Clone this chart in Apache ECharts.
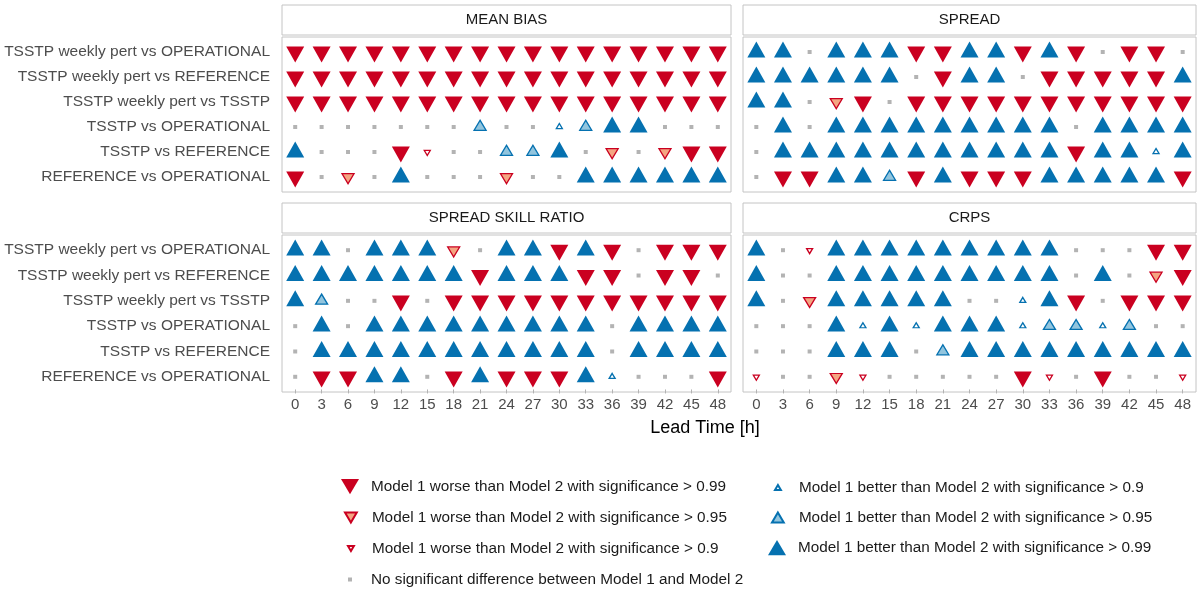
<!DOCTYPE html>
<html>
<head>
<meta charset="utf-8">
<script src="https://cdn.jsdelivr.net/npm/echarts@6/dist/echarts.min.js"></script>
<style>
    html, body {margin: 0; padding: 0; background: #fff;}
    #main {width: 1200px; height: 592px;}
</style>
</head>
<body>
<div id="main"></div>
<script>
    // x: lead time, y: comparisons
    var leadTimes = ['0', '3', '6', '9', '12', '15', '18', '21', '24', '27', '30', '33', '36', '39', '42', '45', '48'];
    var comparisons = [
        'TSSTP weekly pert vs OPERATIONAL',
        'TSSTP weekly pert vs REFERENCE',
        'TSSTP weekly pert vs TSSTP',
        'TSSTP vs OPERATIONAL',
        'TSSTP vs REFERENCE',
        'REFERENCE vs OPERATIONAL'
    ];
    var panelTitles = ['MEAN BIAS', 'SPREAD', 'SPREAD SKILL RATIO', 'CRPS'];

    // -3/-2/-1 : model 1 worse (0.99/0.95/0.9), 0 : no difference, 1/2/3 : model 1 better (0.9/0.95/0.99)
    var meanBias = [
        [-3, -3, -3, -3, -3, -3, -3, -3, -3, -3, -3, -3, -3, -3, -3, -3, -3],
        [-3, -3, -3, -3, -3, -3, -3, -3, -3, -3, -3, -3, -3, -3, -3, -3, -3],
        [-3, -3, -3, -3, -3, -3, -3, -3, -3, -3, -3, -3, -3, -3, -3, -3, -3],
        [0, 0, 0, 0, 0, 0, 0, 2, 0, 0, 1, 2, 3, 3, 0, 0, 0],
        [3, 0, 0, 0, -3, -1, 0, 0, 2, 2, 3, 0, -2, 0, -2, -3, -3],
        [-3, 0, -2, 0, 3, 0, 0, 0, -2, 0, 0, 3, 3, 3, 3, 3, 3]
    ];
    var spread = [
        [3, 3, 0, 3, 3, 3, -3, -3, 3, 3, -3, 3, -3, 0, -3, -3, 0],
        [3, 3, 3, 3, 3, 3, 0, -3, 3, 3, 0, -3, -3, -3, -3, -3, 3],
        [3, 3, 0, -2, -3, 0, -3, -3, -3, -3, -3, -3, -3, -3, -3, -3, -3],
        [0, 3, 0, 3, 3, 3, 3, 3, 3, 3, 3, 3, 0, 3, 3, 3, 3],
        [0, 3, 3, 3, 3, 3, 3, 3, 3, 3, 3, 3, -3, 3, 3, 1, 3],
        [0, -3, -3, 3, 3, 2, -3, 3, -3, -3, -3, 3, 3, 3, 3, 3, -3]
    ];
    var spreadSkill = [
        [3, 3, 0, 3, 3, 3, -2, 0, 3, 3, -3, 3, -3, 0, -3, -3, -3],
        [3, 3, 3, 3, 3, 3, 3, -3, 3, 3, 3, -3, -3, 0, -3, -3, 0],
        [3, 2, 0, 0, -3, 0, -3, -3, -3, -3, -3, -3, -3, -3, -3, -3, -3],
        [0, 3, 0, 3, 3, 3, 3, 3, 3, 3, 3, 3, 0, 3, 3, 3, 3],
        [0, 3, 3, 3, 3, 3, 3, 3, 3, 3, 3, 3, 0, 3, 3, 3, 3],
        [0, -3, -3, 3, 3, 0, -3, 3, -3, -3, -3, 3, 1, 0, 0, 0, -3]
    ];
    var crps = [
        [3, 0, -1, 3, 3, 3, 3, 3, 3, 3, 3, 3, 0, 0, 0, -3, -3],
        [3, 0, 0, 3, 3, 3, 3, 3, 3, 3, 3, 3, 0, 3, 0, -2, -3],
        [3, 0, -2, 3, 3, 3, 3, 3, 0, 0, 1, 3, -3, 0, -3, -3, -3],
        [0, 0, 0, 3, 1, 3, 1, 3, 3, 3, 1, 2, 2, 1, 2, 0, 0],
        [0, 0, 0, 3, 3, 3, 0, 2, 3, 3, 3, 3, 3, 3, 3, 3, 3],
        [-1, 0, 0, -2, -1, 0, 0, 0, 0, 0, -3, -1, 0, -3, 0, 0, -1]
    ];
    var levelNames = {
        '-3': 'Model 1 worse than Model 2 with significance > 0.99',
        '-2': 'Model 1 worse than Model 2 with significance > 0.95',
        '-1': 'Model 1 worse than Model 2 with significance > 0.9',
        '0': 'No significant difference between Model 1 and Model 2',
        '1': 'Model 1 better than Model 2 with significance > 0.9',
        '2': 'Model 1 better than Model 2 with significance > 0.95',
        '3': 'Model 1 better than Model 2 with significance > 0.99'
    };

    var RED = '#ca0020', BLUE = '#0571b0';
    var DOWN = 'path://M0,0L20,0L10,17Z';
    var UP = 'path://M10,0L20,17L0,17Z';
    // 符号样式 (offset: R的三角形以外接圆心定位)
    var levelStyle = {
        '-3': {symbol: DOWN, size: [18, 16], offset: [0, 2.6], item: {color: RED, borderWidth: 0, opacity: 1}},
        '-2': {symbol: DOWN, size: [12, 10], offset: [0, 1.7], item: {color: '#f4a582', borderColor: RED, borderWidth: 1.3, opacity: 1}},
        '-1': {symbol: DOWN, size: [6, 5], offset: [0, 0.9], item: {color: '#fff', borderColor: RED, borderWidth: 1.3, opacity: 1}},
        '0': {symbol: 'rect', size: [4, 4], offset: [0, 0], item: {color: '#b3b3b3', borderWidth: 0, opacity: 1}},
        '1': {symbol: UP, size: [6, 5], offset: [0, -0.9], item: {color: '#fff', borderColor: BLUE, borderWidth: 1.3, opacity: 1}},
        '2': {symbol: UP, size: [12, 10], offset: [0, -1.7], item: {color: '#92c5de', borderColor: BLUE, borderWidth: 1.3, opacity: 1}},
        '3': {symbol: UP, size: [18, 16], offset: [0, -2.6], item: {color: BLUE, borderWidth: 0, opacity: 1}}
    };
    var levels = [-3, -2, -1, 0, 1, 2, 3];

    // panel boxes [left, top, width, height]
    var boxes = [[282, 37, 449, 155], [743, 37, 453, 155], [282, 235, 449, 157], [743, 235, 453, 157]];
    var stripTops = [5, 5, 203, 203];
    var panels = [meanBias, spread, spreadSkill, crps];

    var grids = [], xAxes = [], yAxes = [], series = [], graphics = [];
    panels.forEach(function (codes, p) {
        var b = boxes[p];
        var bottomRow = p >= 2, leftCol = p % 2 === 0;
        // ggplot离散轴扩展0.6 → 上下各留出0.1格
        var unit = b[3] / 6.2;
        grids.push({
            left: b[0], top: b[1] + unit * 0.1, width: b[2], height: unit * 6
        });
        xAxes.push({
            type: 'category', gridIndex: p, data: leadTimes, boundaryGap: true,
            axisLine: {show: false},
            axisTick: {show: bottomRow, alignWithLabel: true, length: 4, lineStyle: {color: '#b3b3b3'}},
            axisLabel: {show: bottomRow, margin: 8, fontSize: 15, color: '#4d4d4d', fontFamily: 'Liberation Sans'},
            splitLine: {show: false}
        });
        yAxes.push({
            type: 'category', gridIndex: p, data: comparisons, inverse: true,
            axisLine: {show: false},
            axisTick: {show: false},
            axisLabel: {show: leftCol, margin: 12, fontSize: 15.5, color: '#4d4d4d', fontFamily: 'Liberation Sans'},
            splitLine: {show: false}
        });
        levels.forEach(function (lv) {
            var pts = [];
            codes.forEach(function (row, r) {
                row.forEach(function (c, i) {
                    if (c === lv) pts.push([i, r]);
                });
            });
            var st = levelStyle[lv];
            series.push({
                type: 'scatter', name: levelNames[lv], xAxisIndex: p, yAxisIndex: p,
                symbol: st.symbol, symbolSize: st.size, symbolOffset: st.offset, itemStyle: st.item,
                data: pts, silent: true
            });
        });
        // panel border
        graphics.push({
            type: 'rect', shape: {x: b[0], y: b[1], width: b[2], height: b[3]},
            style: {fill: 'none', stroke: '#c4c4c4', lineWidth: 1}, z: 0
        });
        // strip header
        graphics.push({
            type: 'rect', shape: {x: b[0], y: stripTops[p], width: b[2], height: 30},
            style: {fill: '#fff', stroke: '#c4c4c4', lineWidth: 1}
        });
        graphics.push({
            type: 'text', x: b[0] + b[2] / 2, y: stripTops[p] + 15,
            style: {text: panelTitles[p], fill: '#1a1a1a', fontSize: 15, fontFamily: 'Liberation Sans', align: 'center', verticalAlign: 'middle'}
        });
    });
    graphics.push({
        type: 'text', x: 705, y: 428,
        style: {text: 'Lead Time [h]', fill: '#000', fontSize: 18, fontFamily: 'Liberation Sans', align: 'center', verticalAlign: 'middle'}
    });

    // 图例: [level, icon centre x, centre y]
    var legendSpots = [[-3, 345, 485], [-2, 345, 516], [-1, 345, 547], [0, 345, 578], [1, 772, 486], [2, 772, 516], [3, 772, 546]];
    var legends = legendSpots.map(function (s) {
        var sz = levelStyle[s[0]].size;
        return {
            data: [levelNames[s[0]]],
            left: s[1] - sz[0] / 2, top: s[2] - 11,
            itemWidth: sz[0], itemHeight: sz[1],
            selectedMode: false,
            textStyle: {fontSize: 15.3, color: '#1a1a1a', fontFamily: 'Liberation Sans', padding: [0, 0, 0, 16 - sz[0] / 2]}
        };
    });

    var myChart = echarts.init(document.getElementById('main'));
    myChart.setOption({
        animation: false,
        backgroundColor: '#fff',
        grid: grids,
        xAxis: xAxes,
        yAxis: yAxes,
        legend: legends,
        graphic: graphics,
        series: series
    });
</script>
</body>
</html>
